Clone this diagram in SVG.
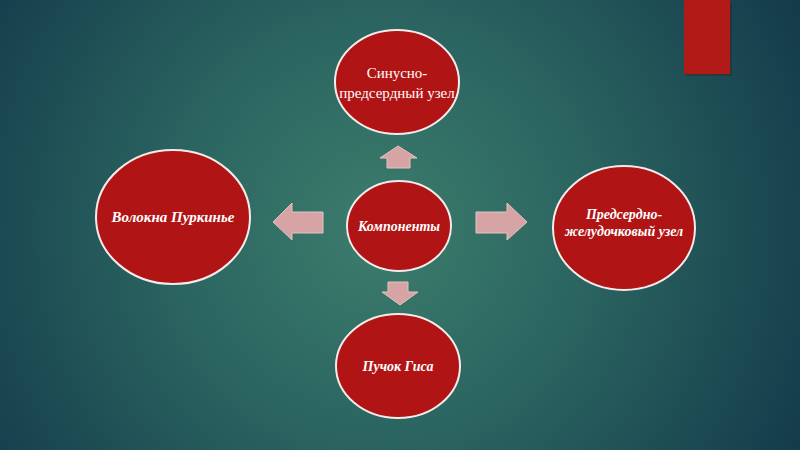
<svg xmlns="http://www.w3.org/2000/svg" width="800" height="450" viewBox="0 0 800 450">
<defs>
<radialGradient id="bg" cx="380" cy="230" r="480" gradientUnits="userSpaceOnUse">
<stop offset="0" stop-color="#3c7d6c"/>
<stop offset="0.45" stop-color="#2a6360"/>
<stop offset="1" stop-color="#133a4a"/>
</radialGradient>
<style>
.node{fill:#b11414;stroke:#f4ecec;stroke-width:2}
.arr{fill:#d6a4a4;stroke:#e6c3c3;stroke-width:1}
.t{font-family:"Liberation Serif","Times New Roman",serif;fill:#ffffff;text-anchor:middle;font-size:14px}
.bi{font-weight:bold;font-style:italic}
</style>
</defs>
<rect width="800" height="450" fill="url(#bg)"/>
<rect x="686" y="2" width="46" height="74" fill="#3a1a1a" opacity="0.35"/>
<rect x="684" y="0" width="46" height="74" fill="#b21a17"/>
<g id="connectors">
<polygon class="arr" points="398,146 417,158 410,158 410,168 387,168 387,158 380,158"/>
<polygon class="arr" points="273,222 292,203 292,212 323,212 323,233 292,233 292,240"/>
<polygon class="arr" points="527,222 507,203 507,212 476,212 476,233 507,233 507,240"/>
<polygon class="arr" points="400,305 418,292 408,292 408,282 388,282 388,292 382,292"/>
</g>
<g id="node-top">
<ellipse class="node" cx="397" cy="82" rx="62" ry="52"/>
<text class="t" x="397" y="78" style="font-size:15px">Синусно-</text>
<text class="t" x="397" y="98" style="font-size:15px">предсердный узел</text>
</g>
<g id="node-center">
<ellipse class="node" cx="399" cy="226" rx="52" ry="45"/>
<text class="t bi" x="399" y="231">Компоненты</text>
</g>
<g id="node-left">
<ellipse class="node" cx="173" cy="217" rx="77" ry="67"/>
<text class="t bi" x="173" y="222" style="font-size:15px">Волокна Пуркинье</text>
</g>
<g id="node-right">
<ellipse class="node" cx="624" cy="228" rx="71" ry="62"/>
<text class="t bi" x="624" y="219">Предсердно-</text>
<text class="t bi" x="624" y="236">желудочковый узел</text>
</g>
<g id="node-bottom">
<ellipse class="node" cx="398" cy="366" rx="62" ry="52"/>
<text class="t bi" x="398" y="371">Пучок Гиса</text>
</g>
</svg>
